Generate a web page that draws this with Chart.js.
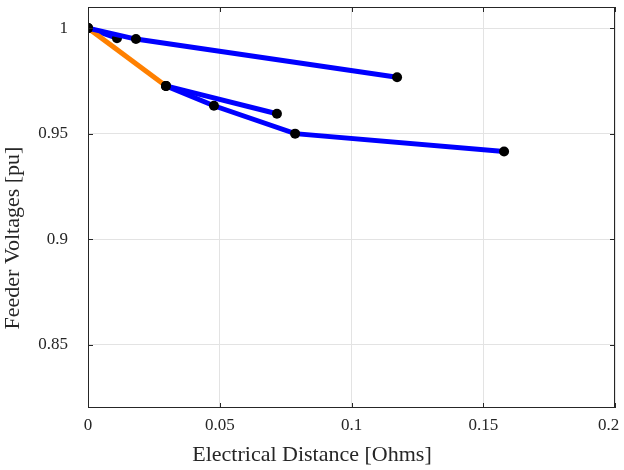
<!DOCTYPE html>
<html>
<head>
<meta charset="utf-8">
<script src="https://cdn.jsdelivr.net/npm/chart.js@4"></script>
<style>
  html, body { margin: 0; padding: 0; background: #fff; }
  #wrap { width: 624px; height: 470px; }
</style>
</head>
<body>
<div id="wrap"><canvas id="chartFeeder" width="624" height="470"></canvas></div>
<script>
// feeder branches: electrical distance [Ohms] vs voltage [pu]
const stubX = [0, 0.011];
const stubV = [1.0, 0.9952];
const mainX = [0, 0.0182, 0.1173];
const mainV = [1.0, 0.9948, 0.9767];
const orangeX = [0, 0.0296];
const orangeV = [1.0, 0.9726];
const shortX = [0.0296, 0.0717];
const shortV = [0.9726, 0.9594];
const longX = [0.0296, 0.0478, 0.0786, 0.1579];
const longV = [0.9726, 0.9632, 0.9500, 0.9415];

const xTicks = [0, 0.05, 0.1, 0.15, 0.2];
const yTicks = [0.85, 0.9, 0.95, 1];

const xTitle = "Electrical Distance [Ohms]";
const yTitle = "Feeder Voltages [pu]";

const pts = (xs, ys) => xs.map((x, i) => ({ x, y: ys[i] }));

const branch = (xs, ys, color, order = 0) => ({
  data: pts(xs, ys),
  order,
  borderColor: color,
  borderWidth: 5,
  pointRadius: 5,
  pointBackgroundColor: "#000",
  pointBorderColor: "#000",
  pointBorderWidth: 0,
  showLine: true,
  fill: false,
  tension: 0,
});

const serif = "'Liberation Serif', 'DejaVu Serif', serif";
const font = { family: serif, size: 17 };

// box around axes + inward ticks + axis labels centred on the figure (MATLAB look)
const boxPlugin = {
  id: "box",
  afterDraw(chart) {
    const { ctx, chartArea: a, scales } = chart;
    ctx.save();
    ctx.strokeStyle = "#262626";
    ctx.lineWidth = 1;
    ctx.strokeRect(a.left + 0.5, a.top + 0.5, a.right - a.left - 1, a.bottom - a.top - 1);
    ctx.beginPath();
    xTicks.forEach(v => {
      const px = Math.round(scales.x.getPixelForValue(v)) + 0.5;
      ctx.moveTo(px, a.bottom); ctx.lineTo(px, a.bottom - 5);
      ctx.moveTo(px, a.top); ctx.lineTo(px, a.top + 5);
    });
    yTicks.forEach(v => {
      const py = Math.round(scales.y.getPixelForValue(v)) + 0.5;
      ctx.moveTo(a.left, py); ctx.lineTo(a.left + 5, py);
      ctx.moveTo(a.right, py); ctx.lineTo(a.right - 5, py);
    });
    ctx.stroke();

    ctx.fillStyle = "#262626";
    ctx.font = `22px ${serif}`;
    ctx.textAlign = "center";
    ctx.textBaseline = "middle";
    ctx.fillText(xTitle, chart.width / 2, 455);
    ctx.translate(13, chart.height / 2 + 3);
    ctx.rotate(-Math.PI / 2);
    ctx.fillText(yTitle, 0, 0);
    ctx.restore();
  }
};

new Chart(document.getElementById("chartFeeder").getContext("2d"), {
  type: "scatter",
  data: {
    datasets: [
      branch(mainX, mainV, "#0000ff"),
      branch(shortX, shortV, "#0000ff"),
      branch(longX, longV, "#0000ff"),
      branch(orangeX, orangeV, "#ff8000"),
      branch(stubX, stubV, "#0000ff", 10), // drawn underneath the main branch
    ]
  },
  options: {
    responsive: false,
    animation: false,
    layout: { padding: { left: 0, right: 9, top: 7, bottom: 0 } },
    plugins: { legend: { display: false }, tooltip: { enabled: false } },
    scales: {
      x: {
        type: "linear",
        min: 0,
        max: 0.2,
        afterBuildTicks: s => { s.ticks = xTicks.map(v => ({ value: v })); },
        afterFit: s => { s.height = 62; s.paddingLeft = 0; s.paddingRight = 0; },
        grid: { color: "#e3e3e3", drawTicks: false },
        border: { display: false },
        ticks: {
          color: "#262626", font, padding: 7, maxRotation: 0,
          // last label nudged left so it stays inside the figure
          callback: v => v === 0.2 ? String(v) + "\u00a0\u00a0\u00a0" : String(v)
        },
        title: { display: false }
      },
      y: {
        type: "linear",
        min: 0.82,
        max: 1.01,
        afterBuildTicks: s => { s.ticks = yTicks.map(v => ({ value: v })); },
        afterFit: s => { s.width = 88; s.paddingTop = 0; s.paddingBottom = 0; },
        grid: { color: "#e3e3e3", drawTicks: false },
        border: { display: false },
        ticks: { color: "#262626", font, padding: 20, callback: v => String(v) },
        title: { display: false }
      }
    }
  },
  plugins: [boxPlugin]
});
</script>
</body>
</html>
